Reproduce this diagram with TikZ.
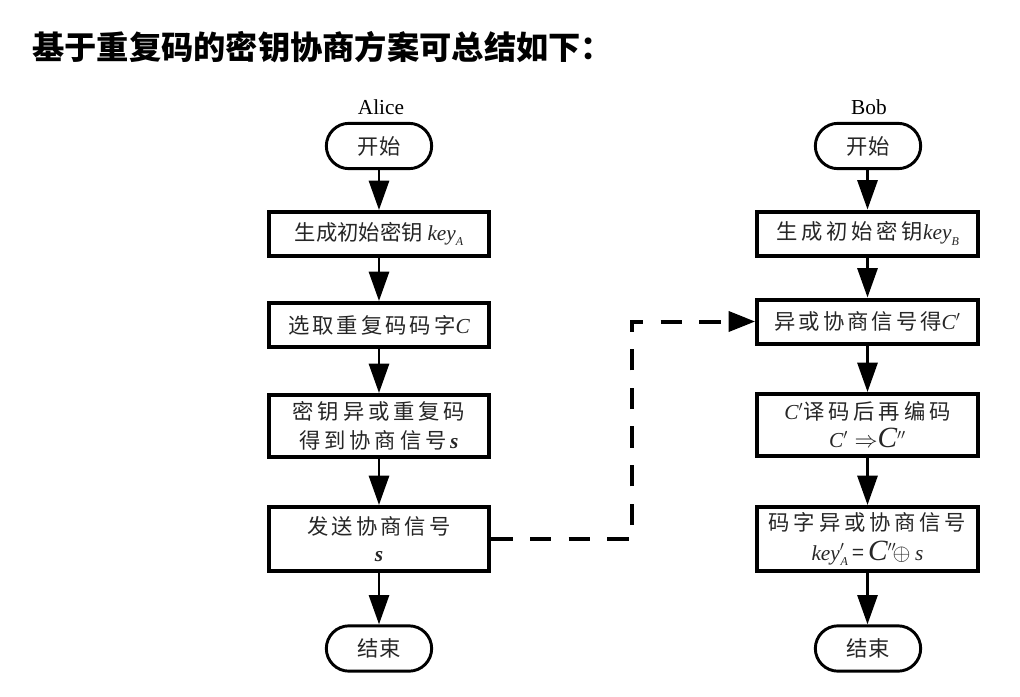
\documentclass[tikz,border=0pt]{standalone}
\usepackage{fontspec}
\usetikzlibrary{arrows.meta}
\newfontfamily\cjk{Noto Sans CJK SC}
\newfontfamily\cjkA[LetterSpace=8]{Noto Sans CJK SC}
\newfontfamily\cjkB[LetterSpace=14]{Noto Sans CJK SC}
\newfontfamily\cjkC[LetterSpace=18]{Noto Sans CJK SC}
\newfontfamily\tms{Liberation Serif}
\newcommand\mi[1]{{\tms\itshape #1}}
\newcommand\mbi[1]{{\tms\bfseries\itshape #1}}
\newcommand\subA[1]{\raisebox{-0.45ex}{\fontsize{9}{9}\selectfont\mi{#1}}}
\begin{document}
\begin{tikzpicture}[x=0.75pt,y=-0.75pt,
  box/.style={draw=black, line width=3pt, minimum width=165.5pt, minimum height=33pt,
    inner sep=0pt, align=center, text=black!85, font=\cjk\fontsize{16}{24}\selectfont},
  term/.style={draw=black, line width=2.2pt, rounded corners=17pt, minimum width=79pt,
    minimum height=34pt, inner sep=0pt, text=black!85, font=\cjk\fontsize{16}{20}\selectfont},
  arr/.style={line width=2.2pt, -{Triangle[length=22pt,width=15pt]}},
  dsh/.style={line width=3pt, dash pattern=on 16pt off 13pt,
    -{Triangle[length=20pt,width=15pt]}},
  who/.style={font=\tms\fontsize{16}{18}\selectfont}]
\useasboundingbox (0,0) rectangle (1020,696);
\fill[white] (0,0) rectangle (1020,696);
% title
\node[anchor=west, inner sep=0pt, font=\cjk\bfseries\fontsize{24.2}{28}\selectfont]
  (title) at (32,47) {基于重复码的密钥协商方案可总结如下：};
% Alice column
\node[who] (alice) at (381,107) {Alice};
\node[term] (as) at (379,146) {开始};
\node[box] (a1) at (379,234) {{\cjk 生成初始密钥} \mi{key}\subA{A}};
\node[box] (a2) at (379,325) {{\cjkB 选取重复码码字}\mi{C}};
\node[box, minimum height=46.5pt] (a3) at (379,426)
  {{\cjkC 密钥异或重复码}\\[-2pt]{\cjkC 得到协商信号}\,\mbi{s}};
\node[box, minimum height=48pt, font=\cjk\fontsize{16}{20}\selectfont] (a4) at (379,539)
  {{\cjkB 发送协商信号}\\\mbi{s}};
\node[term] (ae) at (379,648.5) {结束};
% Bob column
\node[who] (bob) at (869,107) {Bob};
\node[term] (bs) at (868,146) {开始};
\node[box] (b1) at (867.5,233.5) {{\cjkC 生成初始密钥}\mi{key}\subA{B}};
\node[box] (b2) at (867.5,321.5) {{\cjkB 异或协商信号得}\mi{C}$'$};
\node[box, minimum height=46.5pt] (b3) at (867.5,425)
  {\mi{C}$'${\cjkC 译码后再编码}\\[-3pt]\mi{C}$'\Rightarrow${\tms\itshape\fontsize{22}{22}\selectfont C}$''$};
\node[box, minimum height=48pt] (b4) at (867.5,539)
  {{\cjkC 码字异或协商信号}\\[-2pt]\mi{key}$'$\hspace{-3pt}\subA{A} =\,{\tms\itshape\fontsize{22}{22}\selectfont C}$''\!\oplus$ \mi{s}};
\node[term] (be) at (868,648.5) {结束};
% connectors
\draw[arr] (as) -- (a1);
\draw[arr] (a1) -- (a2);
\draw[arr] (a2) -- (a3);
\draw[arr] (a3) -- (a4);
\draw[arr] (a4) -- (ae);
\draw[arr] (bs.south -| b1.north) -- (b1);
\draw[arr] (b1) -- (b2);
\draw[arr] (b2) -- (b3);
\draw[arr] (b3) -- (b4);
\draw[arr] (b4) -- (be.north -| b4.south);
\coordinate (turn) at (632,539);
\draw[dsh] (a4.east) -- (turn) |- (b2.west);
\end{tikzpicture}
\end{document}
